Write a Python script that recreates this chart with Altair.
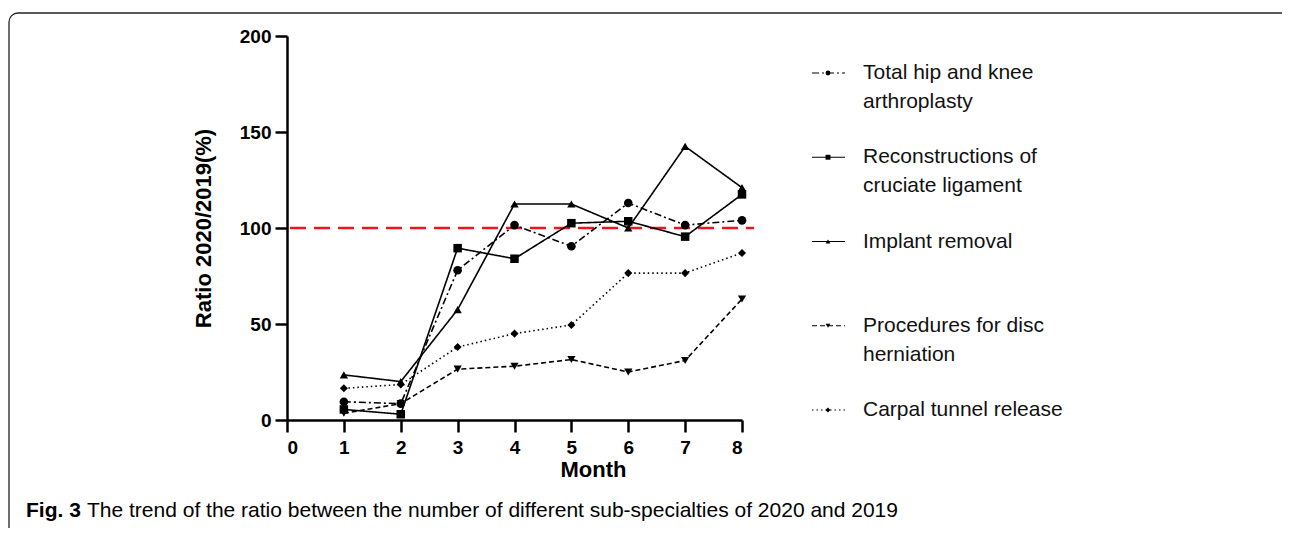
import altair as alt
import pandas as pd

months = [1, 2, 3, 4, 5, 6, 7, 8]
series_names = [
    "Total hip and knee arthroplasty",
    "Reconstructions of cruciate ligament",
    "Implant removal",
    "Procedures for disc herniation",
    "Carpal tunnel release",
]
legend_labels = [
    "Total hip and knee\narthroplasty",
    "Reconstructions of\ncruciate ligament",
    "Implant removal",
    "Procedures for disc\nherniation",
    "Carpal tunnel release",
]
thka = [9.5, 8.5, 78, 101.5, 90.5, 113, 101.5, 104]
recon = [5.5, 3, 89.5, 84, 102.5, 103.5, 95.5, 117.5]
implant = [23.5, 20, 57.5, 112.5, 112.5, 100, 142.5, 121]
disc = [3.5, 8.5, 26.5, 28, 31.5, 25, 31, 63]
carpal = [16.5, 18.5, 38, 45, 49.5, 76.5, 76.5, 87]
x_ticks = [0, 1, 2, 3, 4, 5, 6, 7, 8]
y_ticks = [0, 50, 100, 150, 200]
reference_level = [100]
caption_bold = ["Fig. 3"]
caption_text = ["The trend of the ratio between the number of different sub-specialties of 2020 and 2019"]

rows = []
for name, vals in zip(series_names, [thka, recon, implant, disc, carpal]):
    for m, v in zip(months, vals):
        rows.append({"series": name, "month": m, "ratio": v})
df = pd.DataFrame(rows)
leg = pd.DataFrame({"series": series_names, "label": legend_labels})

W, H = 455, 384
FONT = "Liberation Sans, Arial, sans-serif"

dash_scale = alt.Scale(domain=series_names,
                       range=[[7, 3, 2, 3], [1, 0], [1, 0], [5, 3], [1.5, 3]])
shape_scale = alt.Scale(domain=series_names,
                        range=["circle", "square", "triangle-up", "triangle-down", "diamond"])
size_scale = alt.Scale(domain=series_names, range=[75, 65, 55, 55, 34])
xscale = alt.Scale(domain=[0, 8], nice=False, zero=False)
yscale = alt.Scale(domain=[0, 200], nice=False)

xaxis = alt.Axis(values=x_ticks, title="Month", titleX=306, titleY=49,
                 titleBaseline="middle", titleAlign="center", format="d", labelPadding=6)
yaxis = alt.Axis(values=y_ticks, title="Ratio 2020/2019(%)", titleX=-84, titleY=192,
                 titleBaseline="middle", titleAlign="center")

lines = alt.Chart(df).mark_line(color="black", strokeWidth=1.6).encode(
    x=alt.X("month:Q", scale=xscale, axis=xaxis),
    y=alt.Y("ratio:Q", scale=yscale, axis=yaxis),
    strokeDash=alt.StrokeDash("series:N", scale=dash_scale, legend=None),
    detail="series:N",
)
points = alt.Chart(df).mark_point(filled=True, color="black", opacity=1).encode(
    x=alt.X("month:Q", scale=xscale, axis=xaxis),
    y=alt.Y("ratio:Q", scale=yscale, axis=None),
    shape=alt.Shape("series:N", scale=shape_scale, legend=None),
    size=alt.Size("series:N", scale=size_scale, legend=None),
)
ref_rule = alt.Chart(pd.DataFrame({"level": reference_level})).mark_rule(
    color="#f0141e", strokeWidth=2.5, strokeDash=[16, 8]
).encode(
    x=alt.value(3), x2=alt.value(467),
    y=alt.Y("level:Q", scale=yscale, axis=None),
)

ly = alt.Y("series:N", sort=series_names,
           scale=alt.Scale(type="point", domain=series_names, range=[37, 374], padding=0),
           axis=None)
leg_rule = alt.Chart(leg).mark_rule(color="black", strokeWidth=1.2).encode(
    x=alt.value(525), x2=alt.value(558), y=ly,
    strokeDash=alt.StrokeDash("series:N", scale=dash_scale, legend=None),
)
leg_pt = alt.Chart(leg).mark_point(filled=True, color="black", opacity=1, size=24).encode(
    x=alt.value(541), y=ly,
    shape=alt.Shape("series:N", scale=shape_scale, legend=None),
)
leg_text = alt.Chart(leg).mark_text(
    align="left", baseline="middle", fontSize=21, lineBreak="\n", lineHeight=29,
    font=FONT, color="#111111",
).encode(x=alt.value(576), y=ly, text="label:N")

border = alt.Chart(pd.DataFrame({"a": [0]})).mark_rect(
    fillOpacity=0, stroke="#222222", strokeWidth=1.3, cornerRadius=9
).encode(x=alt.value(-278), x2=alt.value(1010), y=alt.value(-23), y2=alt.value(600))

cap1 = alt.Chart(pd.DataFrame({"t": caption_bold})).mark_text(
    align="left", baseline="alphabetic", fontSize=21, fontWeight="bold", font=FONT, color="black"
).encode(x=alt.value(-261), y=alt.value(481), text="t:N")
cap2 = alt.Chart(pd.DataFrame({"t": caption_text})).mark_text(
    align="left", baseline="alphabetic", fontSize=21, font=FONT, color="black"
).encode(x=alt.value(-200), y=alt.value(481), text="t:N")

chart = alt.layer(
    border, ref_rule, lines, points, leg_rule, leg_pt, leg_text, cap1, cap2
).resolve_scale(y="independent").properties(
    width=W, height=H,
    autosize=alt.AutoSizeParams(type="none"),
    padding={"left": 279, "top": 28, "right": 540, "bottom": 108},
).configure_view(strokeWidth=0).configure_axis(
    domainColor="black", domainWidth=2.5, tickColor="black", tickWidth=2.5, tickSize=12,
    labelFont=FONT, labelFontWeight="bold", labelFontSize=19, labelColor="black",
    labelPadding=4, titleFont=FONT, titleFontWeight="bold", titleFontSize=22,
    titleColor="black", grid=False,
)

chart.save("out.html", embed_options={"renderer": "svg", "actions": False})
